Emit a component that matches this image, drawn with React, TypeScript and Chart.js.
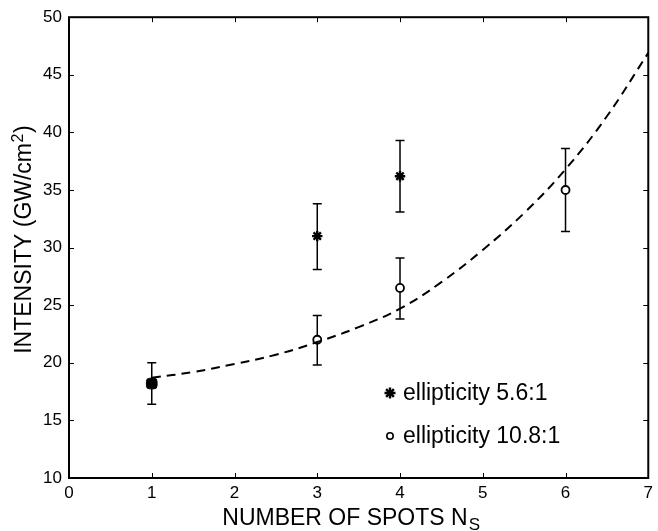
import React, { useEffect, useRef } from 'react';
import { Chart, registerables } from 'chart.js';

Chart.register(...registerables);

const FONT = "'Liberation Sans', Arial, Helvetica, sans-serif";

// Axis ticks
const xTicks = [0, 1, 2, 3, 4, 5, 6, 7];
const yTicks = [10, 15, 20, 25, 30, 35, 40, 45, 50];

// Dashed fit curve
const curveX = [1, 1.5, 2, 2.5, 3, 3.5, 4, 4.5, 5, 5.5, 6, 6.5, 7];
const curveY = [18.7, 19.2, 19.9, 20.7, 21.8, 23.1, 24.7, 27.0, 29.8, 33.0, 36.8, 41.4, 46.9];

// ellipticity 5.6:1 (asterisks)
const starX = [3, 4];
const starY = [31.0, 36.2];
const starLow = [28.1, 33.1];
const starHigh = [33.8, 39.3];

// ellipticity 10.8:1 (circles)
const circX = [3, 4, 6];
const circY = [22.0, 26.5, 35.0];
const circLow = [19.8, 23.8, 31.4];
const circHigh = [24.1, 29.1, 38.6];

// single spot (both ellipticities coincide)
const bothX = [1];
const bothY = [18.2];
const bothLow = [16.4];
const bothHigh = [20.0];

const xTitleMain = 'NUMBER OF SPOTS N';
const xTitleSub = 'S';
const yTitleMain = 'INTENSITY (GW/cm';
const yTitleSup = '2';
const yTitleEnd = ')';
const legendLabels = ['ellipticity 5.6:1', 'ellipticity 10.8:1'];

const pts = (xs: number[], ys: number[]) => xs.map((x, i) => ({ x, y: ys[i] }));

const errorBarPlugin = {
  id: 'errorBars',
  beforeDatasetsDraw(chart: any) {
    const ctx = chart.ctx;
    const xs = chart.scales.x;
    const ys = chart.scales.y;
    ctx.save();
    ctx.strokeStyle = '#000';
    ctx.lineWidth = 1.5;
    chart.data.datasets.forEach((ds: any) => {
      if (!ds.errLow) return;
      ds.data.forEach((p: any, i: number) => {
        const px = xs.getPixelForValue(p.x);
        const lo = ys.getPixelForValue(ds.errLow[i]);
        const hi = ys.getPixelForValue(ds.errHigh[i]);
        ctx.beginPath();
        ctx.moveTo(px, lo);
        ctx.lineTo(px, hi);
        ctx.moveTo(px - 4.5, lo);
        ctx.lineTo(px + 4.5, lo);
        ctx.moveTo(px - 4.5, hi);
        ctx.lineTo(px + 4.5, hi);
        ctx.stroke();
      });
    });
    ctx.restore();
  },
};

const framePlugin = {
  id: 'frame',
  afterDraw(chart: any) {
    const ctx = chart.ctx;
    const { left, right, top, bottom } = chart.chartArea;
    const xs = chart.scales.x;
    const ys = chart.scales.y;
    ctx.save();
    // inner ticks
    ctx.strokeStyle = '#000';
    ctx.lineWidth = 1;
    ctx.beginPath();
    xTicks.forEach((v) => {
      const px = Math.round(xs.getPixelForValue(v)) + 0.5;
      ctx.moveTo(px, bottom);
      ctx.lineTo(px, bottom - 5);
      ctx.moveTo(px, top);
      ctx.lineTo(px, top + 5);
    });
    yTicks.forEach((v) => {
      const py = Math.round(ys.getPixelForValue(v)) + 0.5;
      ctx.moveTo(left, py);
      ctx.lineTo(left + 5, py);
      ctx.moveTo(right, py);
      ctx.lineTo(right - 5, py);
    });
    ctx.stroke();
    // box
    ctx.lineWidth = 2;
    ctx.strokeRect(left, top, right - left, bottom - top);

    ctx.fillStyle = '#000';
    // x title
    ctx.font = `23px ${FONT}`;
    const wMain = ctx.measureText(xTitleMain).width;
    ctx.font = `17px ${FONT}`;
    const wSub = ctx.measureText(xTitleSub).width;
    const cx = (left + right) / 2 - 8;
    const x0 = cx - (wMain + wSub) / 2;
    ctx.textBaseline = 'alphabetic';
    ctx.textAlign = 'left';
    ctx.font = `23px ${FONT}`;
    ctx.fillText(xTitleMain, x0, bottom + 47);
    ctx.font = `17px ${FONT}`;
    ctx.fillText(xTitleSub, x0 + wMain + 1, bottom + 52);

    // y title
    ctx.font = `23px ${FONT}`;
    const w1 = ctx.measureText(yTitleMain).width;
    const w3 = ctx.measureText(yTitleEnd).width;
    ctx.font = `16px ${FONT}`;
    const w2 = ctx.measureText(yTitleSup).width;
    const total = w1 + w2 + w3 + 1;
    const cy = (top + bottom) / 2 - 8;
    ctx.save();
    ctx.translate(31, cy);
    ctx.rotate(-Math.PI / 2);
    let sx = -total / 2;
    ctx.font = `23px ${FONT}`;
    ctx.fillText(yTitleMain, sx, 0);
    sx += w1 + 0.5;
    ctx.font = `16px ${FONT}`;
    ctx.fillText(yTitleSup, sx, -8);
    sx += w2 + 0.5;
    ctx.font = `23px ${FONT}`;
    ctx.fillText(yTitleEnd, sx, 0);
    ctx.restore();

    // legend
    const mx = left + 321;
    const ly1 = bottom - 85;
    const ly2 = bottom - 42;
    ctx.lineWidth = 2.4;
    ctx.beginPath();
    for (let k = 0; k < 4; k++) {
      const a = (k * Math.PI) / 4;
      const r = 5.5;
      ctx.moveTo(mx - r * Math.cos(a), ly1 - r * Math.sin(a));
      ctx.lineTo(mx + r * Math.cos(a), ly1 + r * Math.sin(a));
    }
    ctx.stroke();
    ctx.lineWidth = 1.6;
    ctx.beginPath();
    ctx.arc(mx, ly2, 3.2, 0, Math.PI * 2);
    ctx.stroke();
    ctx.font = `23px ${FONT}`;
    ctx.textBaseline = 'middle';
    ctx.fillText(legendLabels[0], mx + 13, ly1 + 1);
    ctx.fillText(legendLabels[1], mx + 13, ly2 + 1);
    ctx.restore();
  },
};

export default function App() {
  const ref = useRef<HTMLCanvasElement | null>(null);
  useEffect(() => {
    if (!ref.current) return;
    const chart = new Chart(ref.current, {
      type: 'scatter',
      data: {
        datasets: [
          {
            type: 'line',
            label: 'fit',
            data: pts(curveX, curveY),
            borderColor: '#000',
            borderWidth: 2,
            borderDash: [9, 6],
            pointRadius: 0,
            tension: 0.4,
            fill: false,
          } as any,
          {
            label: legendLabels[1],
            data: pts(circX, circY),
            errLow: circLow,
            errHigh: circHigh,
            pointStyle: 'circle',
            pointRadius: 4,
            borderWidth: 1.8,
            borderColor: '#000',
            backgroundColor: '#fff',
          } as any,
          {
            label: legendLabels[0],
            data: pts(starX, starY),
            errLow: starLow,
            errHigh: starHigh,
            pointStyle: 'star',
            pointRadius: 5.2,
            borderWidth: 2.4,
            borderColor: '#000',
            backgroundColor: '#000',
          } as any,
          {
            label: 'both',
            data: pts(bothX, bothY),
            errLow: bothLow,
            errHigh: bothHigh,
            pointStyle: 'rectRounded',
            pointRadius: 6.2,
            borderWidth: 1,
            borderColor: '#000',
            backgroundColor: '#000',
          } as any,
        ],
      },
      options: {
        responsive: false,
        animation: false,
        layout: { padding: { top: 16, right: 5, left: 0, bottom: 0 } },
        plugins: {
          legend: { display: false },
          tooltip: { enabled: false },
          title: { display: false },
        },
        scales: {
          x: {
            type: 'linear',
            min: 0,
            max: 7,
            afterBuildTicks: (s: any) => {
              s.ticks = xTicks.map((v) => ({ value: v }));
            },
            afterFit: (s: any) => {
              s.height = 53;
            },
            grid: { display: false, drawTicks: false },
            border: { display: false },
            ticks: {
              color: '#000',
              padding: 5,
              font: { family: FONT, size: 17 },
              maxRotation: 0,
              autoSkip: false,
            },
          },
          y: {
            type: 'linear',
            min: 10,
            max: 50,
            afterBuildTicks: (s: any) => {
              s.ticks = yTicks.map((v) => ({ value: v }));
            },
            afterFit: (s: any) => {
              s.width = 69;
            },
            grid: { display: false, drawTicks: false },
            border: { display: false },
            ticks: {
              color: '#000',
              padding: 7,
              font: { family: FONT, size: 17 },
              autoSkip: false,
            },
          },
        },
      } as any,
      plugins: [errorBarPlugin, framePlugin],
    });
    return () => chart.destroy();
  }, []);
  return (
    <div style={{ position: 'absolute', left: 0, top: 0, width: 658, height: 531, background: '#fff' }}>
      <canvas ref={ref} width={658} height={531} style={{ width: 658, height: 531, display: 'block' }} />
    </div>
  );
}
